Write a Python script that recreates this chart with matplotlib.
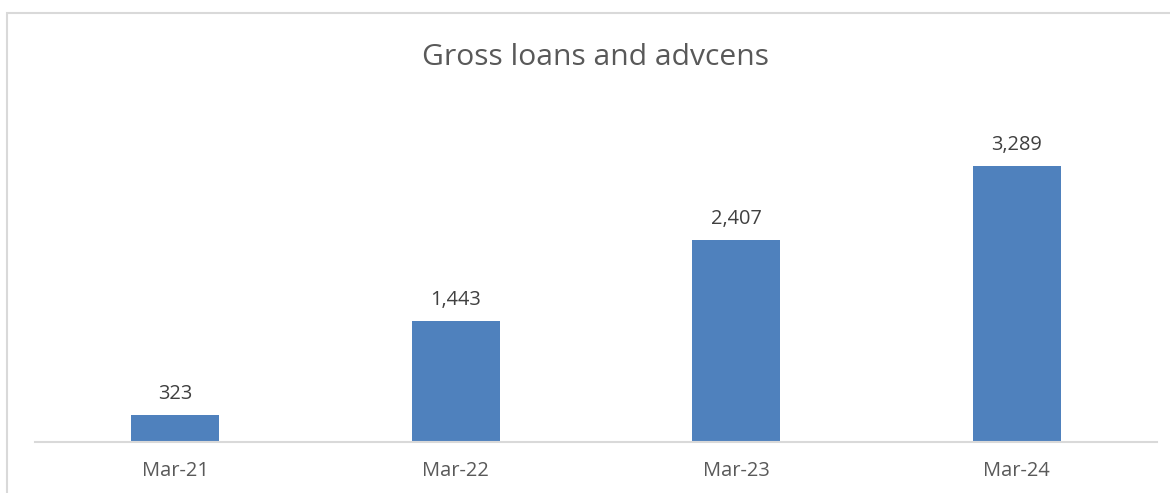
import matplotlib
matplotlib.use("Agg")
import matplotlib.pyplot as plt
from matplotlib.patches import Rectangle

categories = ["Mar-21", "Mar-22", "Mar-23", "Mar-24"]
values = [323, 1443, 2407, 3289]
value_labels = ["323", "1,443", "2,407", "3,289"]
title = "Gross loans and advcens"

W, H = 1170, 493
fig = plt.figure(figsize=(W / 100, H / 100), dpi=100)
fig.patch.set_facecolor("white")

# outer chart border
fig.add_artist(Rectangle((7 / W, -0.1), 1.2, 1 - 13 / H + 0.1, transform=fig.transFigure,
                         fill=False, edgecolor="#D9D9D9", linewidth=1.5))

ax = fig.add_axes([35 / W, 1 - 442 / H, (1157 - 35) / W, (442 - 148) / H])
x = list(range(len(categories)))
bars = ax.bar(x, values, width=0.314, color="#4F81BD", zorder=2)
ax.set_xlim(-0.5, len(categories) - 0.5)
ax.set_ylim(0, 3500)

font = "Open Sans"
for xi, v, lab in zip(x, values, value_labels):
    ax.annotate(lab, (xi, v), xytext=(0, 11.5), textcoords="offset points",
                ha="center", va="baseline", fontsize=14.4, color="#404040", family=font)

for s in ["top", "right", "left"]:
    ax.spines[s].set_visible(False)
ax.spines["bottom"].set_color("#D9D9D9")
ax.spines["bottom"].set_linewidth(1.5)
ax.set_yticks([])
ax.set_xticks(x)
ax.set_xticklabels(categories, fontsize=14.4, color="#595959", family=font)
ax.tick_params(axis="x", length=0, pad=14)

fig.text(595 / W, 1 - 65 / H, title, ha="center", va="baseline", fontsize=21.6,
         color="#595959", family=font)

fig.savefig("out.png", dpi=100)
